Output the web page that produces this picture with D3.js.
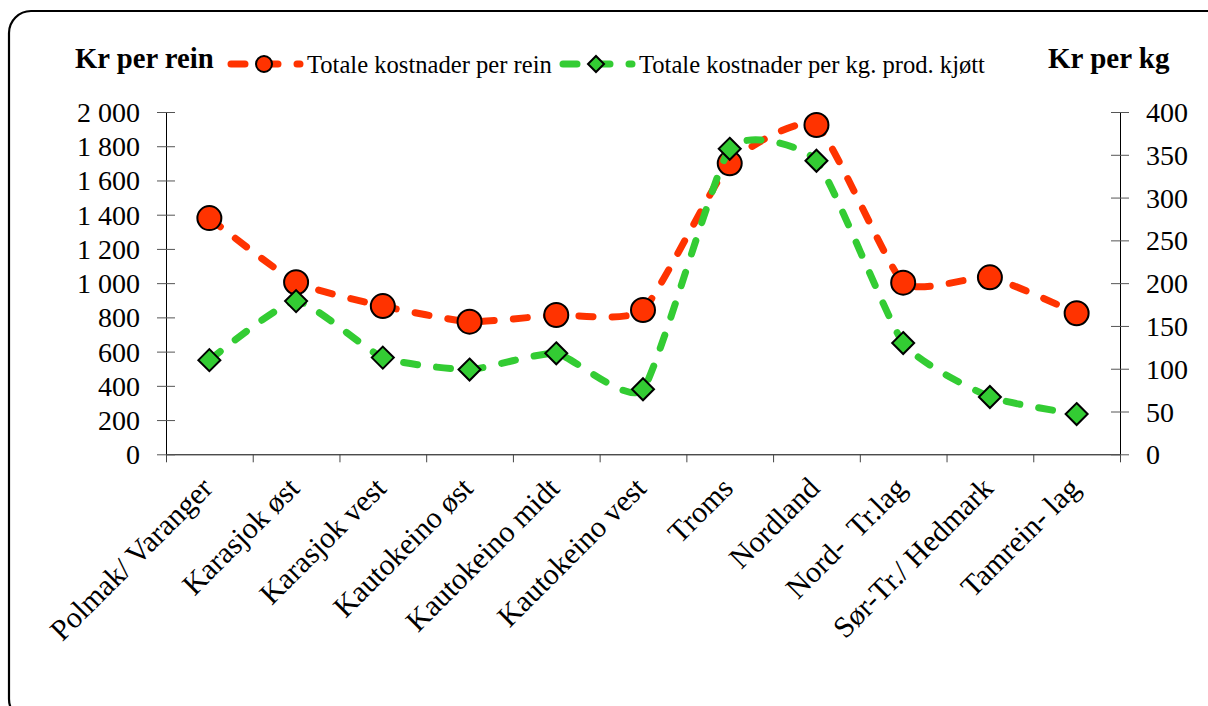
<!DOCTYPE html>
<html>
<head>
<meta charset="utf-8">
<script src="https://cdn.jsdelivr.net/npm/d3@7"></script>
<style>
  body { margin: 0; background: #fff; }
  text { font-family: "Liberation Serif", "Times New Roman", serif; fill: #000; }
</style>
</head>
<body>
<div class="chart"></div>
<script>
var categories = ["Polmak/ Varanger", "Karasjok øst", "Karasjok vest", "Kautokeino øst",
                  "Kautokeino midt", "Kautokeino vest", "Troms", "Nordland",
                  "Nord-  Tr.lag", "Sør-Tr./ Hedmark", "Tamrein- lag"];
var costPerRein = [1380, 1005, 866, 775, 814, 843, 1700, 1924, 1003, 1034, 824];
var costPerKg = [110, 179, 113, 99, 118, 76, 357, 343, 130, 67, 47];
var leftTicks = [0, 200, 400, 600, 800, 1000, 1200, 1400, 1600, 1800, 2000];
var rightTicks = [0, 50, 100, 150, 200, 250, 300, 350, 400];
var seriesNames = ["Totale kostnader per rein", "Totale kostnader per kg. prod. kjøtt"];

var red = "#ff3300", green = "#33cc33";

var width = 1208, height = 706;
var plotLeft = 166, plotRight = 1120, plotTop = 112, plotBottom = 454.3;

var svg = d3.select(".chart").append("svg")
            .attr("width", width).attr("height", height);

// frame
svg.append("rect")
   .attr("x", 9).attr("y", 11).attr("width", 1220).attr("height", 710)
   .attr("rx", 22).attr("fill", "none").attr("stroke", "#000").attr("stroke-width", 2.2);

var x = d3.scaleBand().domain(categories).range([plotLeft, plotRight]);
var xEdge = d3.scaleLinear().domain([0, categories.length]).range([plotLeft, plotRight]);
var yL = d3.scaleLinear().domain([0, 2000]).range([plotBottom, plotTop]);
var yR = d3.scaleLinear().domain([0, 400]).range([plotBottom, plotTop]);

var fmt = d3.formatLocale({decimal: ",", thousands: " ", grouping: [3], currency: ["", ""]}).format(",");

// x axis (ticks between categories)
var gx = svg.append("g").attr("transform", "translate(0," + plotBottom + ")")
            .call(d3.axisBottom(xEdge).ticks(categories.length).tickSize(8).tickSizeOuter(0).tickFormat(""));
gx.select(".domain").attr("stroke", "#000");
gx.selectAll(".tick line").attr("stroke", "#444");

// left axis
var gl = svg.append("g").attr("transform", "translate(" + plotLeft + ",0)")
            .call(d3.axisLeft(yL).tickValues(leftTicks).tickSize(9).tickSizeOuter(0).tickPadding(17).tickFormat(fmt));
gl.selectAll(".tick line").attr("x1", 9).attr("stroke", "#555");
gl.select(".domain").attr("stroke", "#000");
gl.selectAll("text").style("font-size", "28px").style("font-family", "Liberation Serif").attr("dy", "0.34em");

// right axis
var gr = svg.append("g").attr("transform", "translate(" + plotRight + ",0)")
            .call(d3.axisRight(yR).tickValues(rightTicks).tickSize(9).tickSizeOuter(0).tickPadding(17));
gr.selectAll(".tick line").attr("x1", -9).attr("stroke", "#555");
gr.select(".domain").attr("stroke", "#000");
gr.selectAll("text").style("font-size", "28px").style("font-family", "Liberation Serif").attr("dy", "0.34em");

// category labels
svg.append("g").selectAll("text")
   .data(categories).enter().append("text")
   .attr("transform", function(d) { return "translate(" + (x(d) + x.bandwidth() / 2 + 5) + ",490) rotate(-45)"; })
   .attr("text-anchor", "end")
   .style("font-size", "30px")
   .style("white-space", "pre")
   .text(function(d) { return d; });

var cx = function(d, i) { return x(categories[i]) + x.bandwidth() / 2; };
var diamond = function(s) { return "M0," + (-s) + "L" + s + ",0L0," + s + "L" + (-s) + ",0Z"; };

function drawLine(data, yScale, color) {
  var line = d3.line()
               .x(function(d, i) { return cx(d, i); })
               .y(function(d) { return yScale(d); })
               .curve(d3.curveCardinal.tension(0.5));
  svg.append("path")
     .datum(data)
     .attr("d", line)
     .attr("fill", "none")
     .attr("stroke", color)
     .attr("stroke-width", 7)
     .attr("stroke-linecap", "round")
     .attr("stroke-dasharray", "14,19");
}

drawLine(costPerRein, yL, red);
svg.append("g").selectAll("circle")
   .data(costPerRein).enter().append("circle")
   .attr("cx", cx)
   .attr("cy", function(d) { return yL(d); })
   .attr("r", 12)
   .attr("fill", red).attr("stroke", "#000").attr("stroke-width", 2);

drawLine(costPerKg, yR, green);
svg.append("g").selectAll("path")
   .data(costPerKg).enter().append("path")
   .attr("d", diamond(11))
   .attr("transform", function(d, i) { return "translate(" + cx(d, i) + "," + yR(d) + ")"; })
   .attr("fill", green).attr("stroke", "#000").attr("stroke-width", 2);

// titles and legend
svg.append("text").attr("x", 75).attr("y", 68)
   .style("font-size", "28.7px").style("font-weight", "bold").text("Kr per rein");
svg.append("text").attr("x", 1048).attr("y", 68)
   .style("font-size", "29px").style("font-weight", "bold").text("Kr per kg");

var legend = [
  {x0: 228, color: red, tx: 307, name: seriesNames[0], mark: "circle"},
  {x0: 560, color: green, tx: 639, name: seriesNames[1], mark: "diamond"}
];
legend.forEach(function(l) {
  svg.append("line")
     .attr("x1", l.x0 + 3).attr("x2", l.x0 + 72).attr("y1", 64).attr("y2", 64)
     .attr("stroke", l.color).attr("stroke-width", 7)
     .attr("stroke-linecap", "round").attr("stroke-dasharray", "14,19");
  if (l.mark == "circle") {
    svg.append("circle").attr("cx", l.x0 + 36).attr("cy", 64).attr("r", 8)
       .attr("fill", l.color).attr("stroke", "#000").attr("stroke-width", 2);
  } else {
    svg.append("path").attr("d", diamond(8))
       .attr("transform", "translate(" + (l.x0 + 36) + ",64)")
       .attr("fill", l.color).attr("stroke", "#000").attr("stroke-width", 2);
  }
  svg.append("text").attr("x", l.tx).attr("y", 73)
     .style("font-size", "24.6px").text(l.name);
});
</script>
</body>
</html>
